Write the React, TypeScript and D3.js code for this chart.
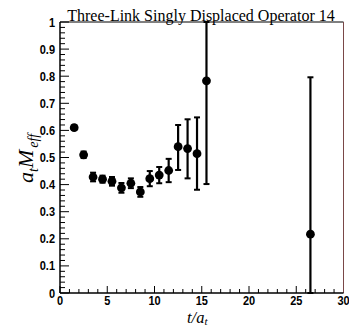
import React from "react";
import * as d3 from "d3";

const timeSlices = [1.5, 2.5, 3.5, 4.5, 5.5, 6.5, 7.5, 8.5, 9.5, 10.5, 11.5, 12.5, 13.5, 14.5, 15.5, 26.5];
const massValues = [0.61, 0.51, 0.428, 0.42, 0.412, 0.388, 0.405, 0.373, 0.422, 0.435, 0.452, 0.54, 0.533, 0.514, 0.783, 0.217];
const errLow = [0.008, 0.012, 0.016, 0.013, 0.016, 0.018, 0.018, 0.018, 0.028, 0.03, 0.043, 0.086, 0.11, 0.133, 0.381, 0.58];
const errHigh = [0.008, 0.012, 0.016, 0.013, 0.016, 0.018, 0.018, 0.018, 0.028, 0.03, 0.043, 0.08, 0.108, 0.134, 0.38, 0.579];
const xTicks = [0, 5, 10, 15, 20, 25, 30];
const yTicks = [0, 0.1, 0.2, 0.3, 0.4, 0.5, 0.6, 0.7, 0.8, 0.9, 1];
const yTickLabels = ["0", "0.1", "0.2", "0.3", "0.4", "0.5", "0.6", "0.7", "0.8", "0.9", "1"];
const titleText = "Three-Link Singly Displaced Operator 14";

export default function App() {
  const W = 349, H = 327;
  const x = d3.scaleLinear().domain([0, 30]).range([60, 343.5]);
  const y = d3.scaleLinear().domain([0, 1]).range([293, 22]);
  const xMinor = d3.range(0, 31, 1);
  const yMinor = d3.range(0, 1.0001, 0.02);
  const clamp = (v: number) => Math.max(0, Math.min(1, v));

  return (
    <svg width={W} height={H} style={{ position: "absolute", left: 0, top: 0, background: "#fff" }}>
      {xMinor.map((t) => (
        <line key={"xm" + t} x1={x(t)} x2={x(t)} y1={y(0)} y2={y(0) - (t % 5 === 0 ? 7 : 4)} stroke="#000" strokeWidth={1} />
      ))}
      {yMinor.map((t, i) => (
        <line key={"ym" + i} x1={x(0)} x2={x(0) + (i % 5 === 0 ? 9 : 5)} y1={y(t)} y2={y(t)} stroke="#000" strokeWidth={1} />
      ))}
      <line x1={x(0)} x2={x(30)} y1={y(1)} y2={y(1)} stroke="#000" strokeWidth={1} />
      <line x1={x(30)} x2={x(30)} y1={y(1)} y2={y(0)} stroke="#7a4848" strokeWidth={1} />
      <line x1={x(0)} x2={x(30)} y1={y(0)} y2={y(0)} stroke="#000" strokeWidth={1.5} />
      <line x1={x(0)} x2={x(0)} y1={y(1)} y2={y(0)} stroke="#000" strokeWidth={1.5} />
      {xTicks.map((t) => (
        <text key={"xl" + t} transform={`translate(${x(t)},304.5) scale(0.88,1)`} textAnchor="middle"
          fontFamily="Liberation Sans, Arial, sans-serif" fontWeight="bold" fontSize={12.5} fill="#000">{t}</text>
      ))}
      {yTicks.map((t, i) => (
        <text key={"yl" + i} transform={`translate(55,${y(t) + 4.5}) scale(0.88,1)`} textAnchor="end"
          fontFamily="Liberation Sans, Arial, sans-serif" fontWeight="bold" fontSize={12.5} fill="#000">{yTickLabels[i]}</text>
      ))}
      {timeSlices.map((t, i) => {
        const lo = clamp(massValues[i] - errLow[i]);
        const hi = clamp(massValues[i] + errHigh[i]);
        const cx = x(t);
        return (
          <g key={"p" + i}>
            <line x1={cx} x2={cx} y1={y(lo)} y2={y(hi)} stroke="#000" strokeWidth={2.2} />
            <line x1={cx - 3} x2={cx + 3} y1={y(lo)} y2={y(lo)} stroke="#000" strokeWidth={2} />
            <line x1={cx - 3} x2={cx + 3} y1={y(hi)} y2={y(hi)} stroke="#000" strokeWidth={2} />
            <circle cx={cx} cy={y(massValues[i])} r={4.4} fill="#000" />
          </g>
        );
      })}
      <text x={201} y={20.5} textAnchor="middle" fontFamily="Liberation Serif, Times New Roman, serif" fontSize={16} fill="#000">{titleText}</text>
      <text x={187} y={322.5} fontFamily="Liberation Serif, Times New Roman, serif" fontStyle="italic" fontSize={16.5} fill="#000">
        t/a<tspan fontSize={11} dy={2}>t</tspan>
      </text>
      <text transform="translate(33,183) rotate(-90)" fontFamily="Liberation Serif, Times New Roman, serif" fontStyle="italic" fontSize={22} fill="#000">
        a<tspan fontSize={14} dy={5}>t</tspan><tspan dy={-5}>M</tspan><tspan fontSize={14} dy={5} dx={2}>eff</tspan>
      </text>
    </svg>
  );
}
